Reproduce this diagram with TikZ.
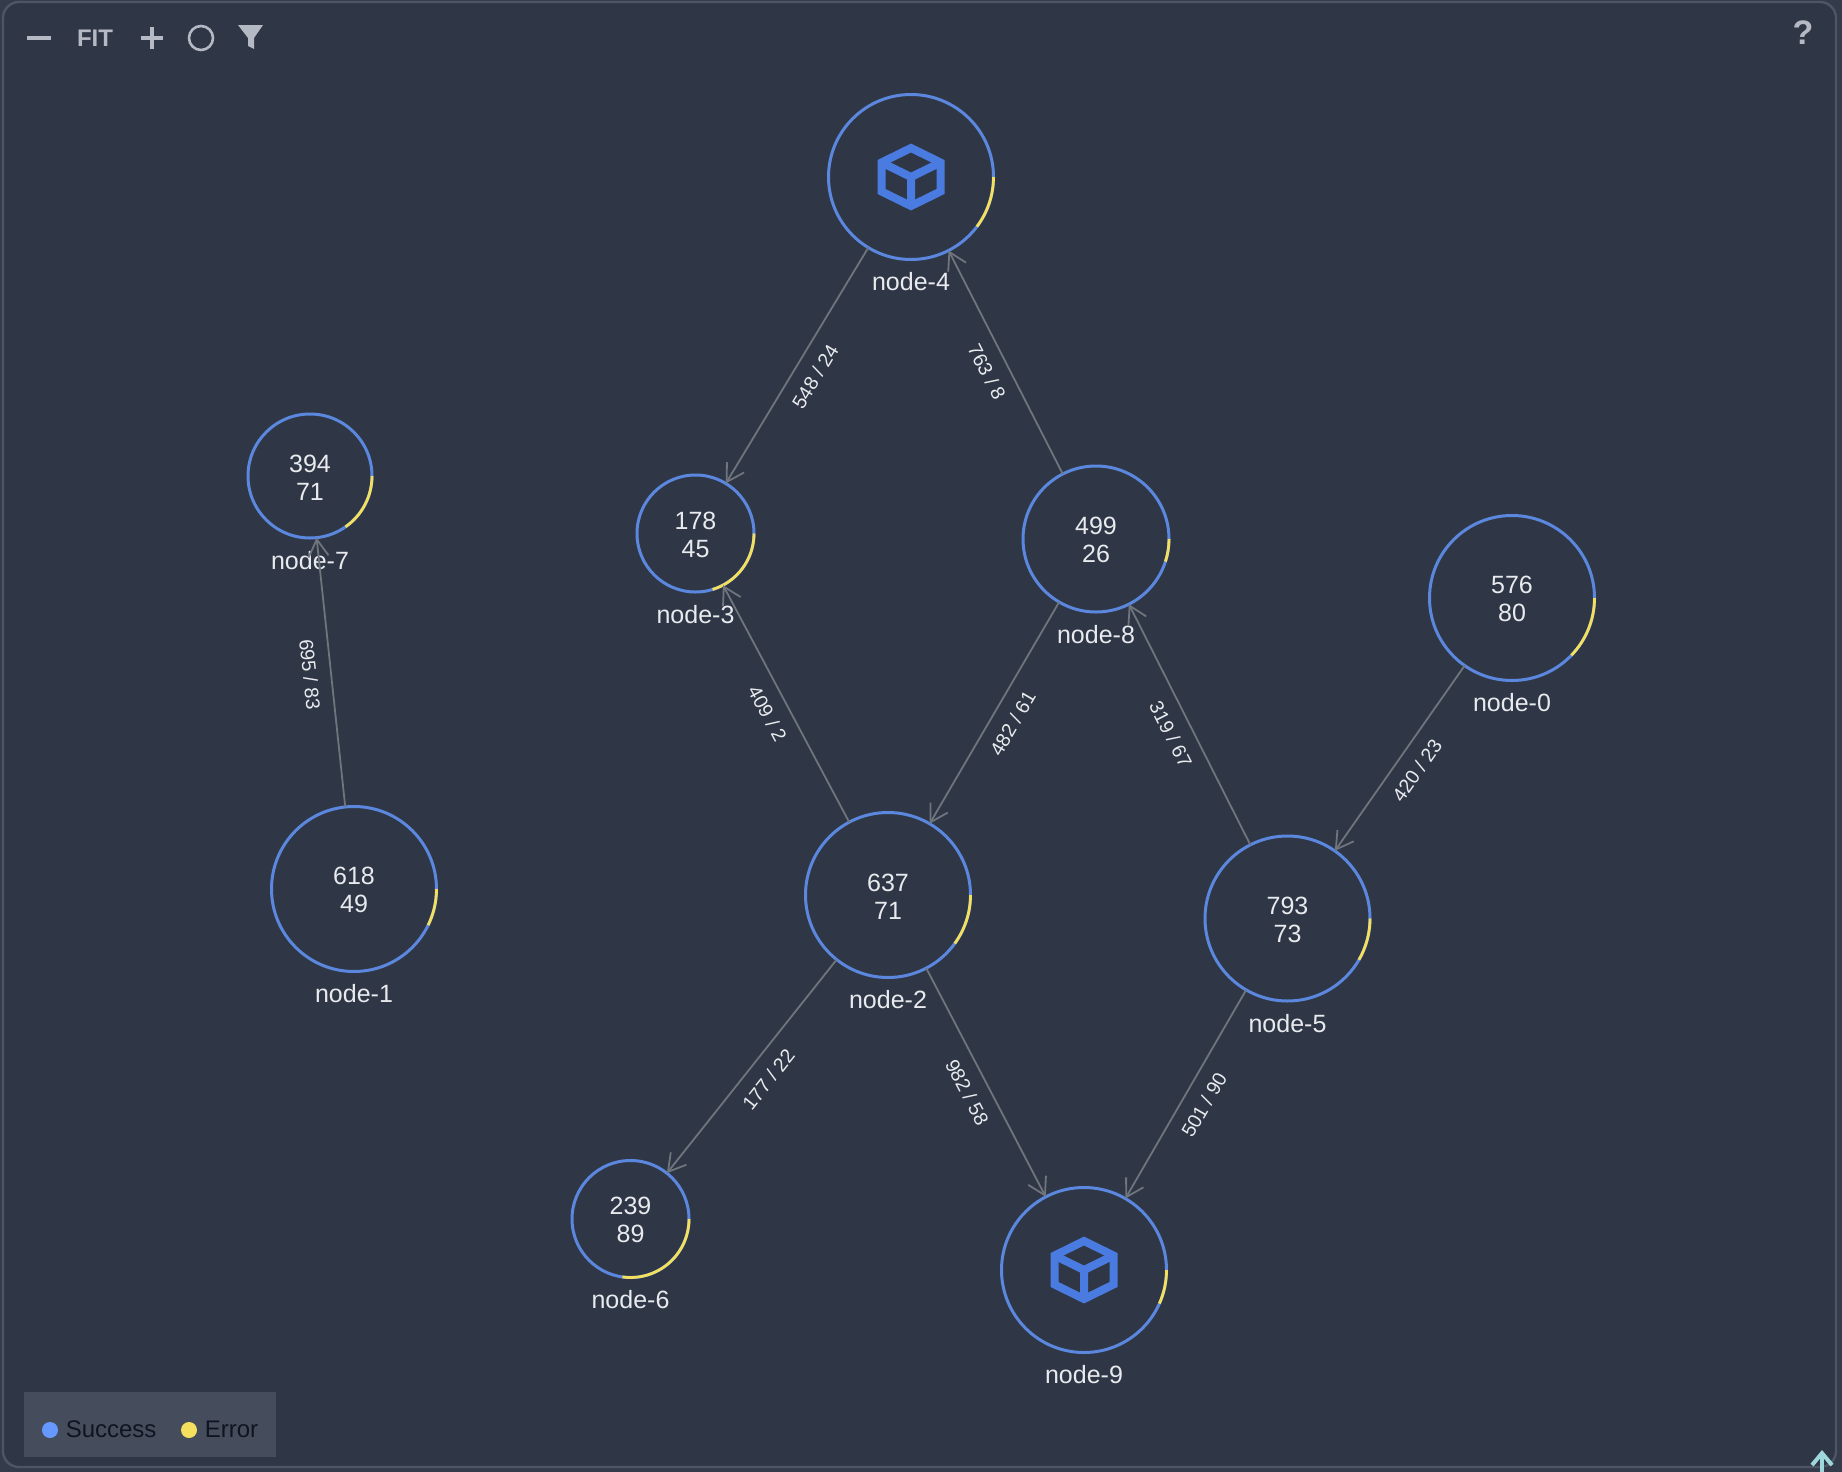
\documentclass[tikz,border=0pt]{standalone}
\usepackage{fontspec}
\setmainfont{Liberation Sans}
\usetikzlibrary{arrows.meta,positioning}
\definecolor{panelbg}{HTML}{2F3746}
\definecolor{panelout}{HTML}{343C4B}
\definecolor{panelrim}{HTML}{4E5665}
\definecolor{legendbg}{HTML}{454D5C}
\definecolor{okblue}{HTML}{5B87DE}
\definecolor{okfill}{HTML}{6699FF}
\definecolor{errylw}{HTML}{F5E05E}
\definecolor{cubeblue}{HTML}{4A7BE0}
\definecolor{edgegray}{HTML}{6F757C}
\definecolor{toolgray}{HTML}{B4B9C4}
\definecolor{txtwhite}{HTML}{E8EAEE}
\definecolor{legendtxt}{HTML}{0F1420}
\definecolor{topcyan}{HTML}{9FD8DC}
\newcommand{\counts}[2]{\rule{0pt}{10.1pt}#1\\#2}
\tikzset{cube/.pic={
  \draw[cubeblue, line width=4pt, line join=miter] (0,-29) -- (29.5,-14.5) -- (29.5,14.5) -- (0,29) -- (-29.5,14.5) -- (-29.5,-14.5) -- cycle;
  \draw[cubeblue, line width=4pt, line join=miter] (-29.5,-14.5) -- (0,0) -- (29.5,-14.5) (0,0) -- (0,29);
}}
\begin{document}
\begin{tikzpicture}[x=0.5pt, y=-0.5pt]
\tikzstyle{vtx}=[circle, draw=okblue, line width=1.5pt, inner sep=0pt, outer sep=0pt, align=center,
                        text=txtwhite, font=\fontsize{12.5}{14}\selectfont]
\tikzstyle{nlbl}=[inner sep=0pt, outer sep=0pt, text=txtwhite, font=\fontsize{12.5}{14}\selectfont]
\tikzstyle{lbl}=[midway, sloped, below=6.5pt, inner sep=0pt, text=txtwhite, font=\fontsize{9.8}{10}\selectfont]
\tikzstyle{edge}=[draw=edgegray, line width=0.9pt, -{Straight Barb[length=8.5pt, width=10pt]}]
\tikzstyle{err}=[draw=errylw, line width=1.4pt]
\tikzstyle{lgd}=[inner sep=0pt, yshift=.5pt, text=legendtxt, font=\fontsize{12}{14}\selectfont]
\useasboundingbox (0,0) rectangle (1842,1472);
\fill[panelout] (0,0) rectangle (1842,1472);
\draw[panelrim, fill=panelbg, line width=1.2pt, rounded corners=8pt] (3,2) rectangle (1836,1467);
% toolbar
\draw[toolgray, line width=2.4pt] (27,38) -- (51,38);
\node[inner sep=0pt, text=toolgray, font=\bfseries\fontsize{12}{14}\selectfont] (fit) at (95,38) {FIT};
\draw[toolgray, line width=2.4pt] (141,38) -- (163,38) (152,27) -- (152,49);
\draw[toolgray, line width=1.3pt] (201,38) circle[radius=12];
\fill[toolgray] (238,25) -- (263,25) -- (254,38) -- (254,49) -- (248,46) -- (248,38) -- cycle;
\node[inner sep=0pt, text=toolgray, font=\bfseries\fontsize{17}{20}\selectfont] (help) at (1803,33) {?};
\draw[-{Straight Barb[length=6pt, width=10pt]}, color=topcyan, line width=2pt] (1822,1472) -- (1822,1450);
% nodes
\node[vtx, minimum size=82.5pt, label={[nlbl, label distance=6.5pt]below:node-0}] (n0) at (1512,598) {\counts{576}{80}};
\node[vtx, minimum size=82.5pt, label={[nlbl, label distance=6.5pt]below:node-1}] (n1) at (354,889) {\counts{618}{49}};
\node[vtx, minimum size=82.5pt, label={[nlbl, label distance=6.5pt]below:node-2}] (n2) at (888,895) {\counts{637}{71}};
\node[vtx, minimum size=58.5pt, label={[nlbl, label distance=6.5pt]below:node-3}] (n3) at (695.5,533.5) {\counts{178}{45}};
\node[vtx, minimum size=82.5pt, label={[nlbl, label distance=6.5pt]below:node-4}] (n4) at (911,177) {};
\node[vtx, minimum size=82.5pt, label={[nlbl, label distance=6.5pt]below:node-5}] (n5) at (1287.5,918.5) {\counts{793}{73}};
\node[vtx, minimum size=58.5pt, label={[nlbl, label distance=6.5pt]below:node-6}] (n6) at (630.5,1219) {\counts{239}{89}};
\node[vtx, minimum size=62pt, label={[nlbl, label distance=6.5pt]below:node-7}] (n7) at (310,476) {\counts{394}{71}};
\node[vtx, minimum size=73pt, label={[nlbl, label distance=6.5pt]below:node-8}] (n8) at (1096,539) {\counts{499}{26}};
\node[vtx, minimum size=82.5pt, label={[nlbl, label distance=6.5pt]below:node-9}] (n9) at (1084,1270) {};
\pic at (n4.center) {cube};
\pic at (n9.center) {cube};
% error part of each ring
\foreach \i/\r/\a in {n0/82.5/44,n1/82.5/26,n2/82.5/36,n3/58.5/73,n4/82.5/37,n5/82.5/30,n6/58.5/98,n7/62/55,n8/73/18,n9/82.5/24}{\draw[err] (\i.center) ++(\r,0) arc[start angle=0, end angle=\a, radius=\r];}
% edges
\foreach \i/\j/\k/\m in {n4/n3/548/24,n8/n4/763/8,n2/n3/409/2,n8/n2/482/61,n5/n8/319/67,n0/n5/420/23,n1/n7/695/83,n2/n6/177/22,n2/n9/982/58,n5/n9/501/90}{\draw[edge] (\i) -- node[lbl]{\k{} / \m} (\j);}
% legend
\fill[legendbg] (24,1392) rectangle (276,1457);
\node[circle, fill=okfill, minimum size=8pt, inner sep=0pt] (okdot) at (50,1430) {};
\node[lgd, right=3.5pt of okdot] (oktxt) {Success};
\node[circle, fill=errylw, minimum size=8pt, inner sep=0pt] (errdot) at (189,1430) {};
\node[lgd, right=3.5pt of errdot] (errtxt) {Error};
\end{tikzpicture}
\end{document}
